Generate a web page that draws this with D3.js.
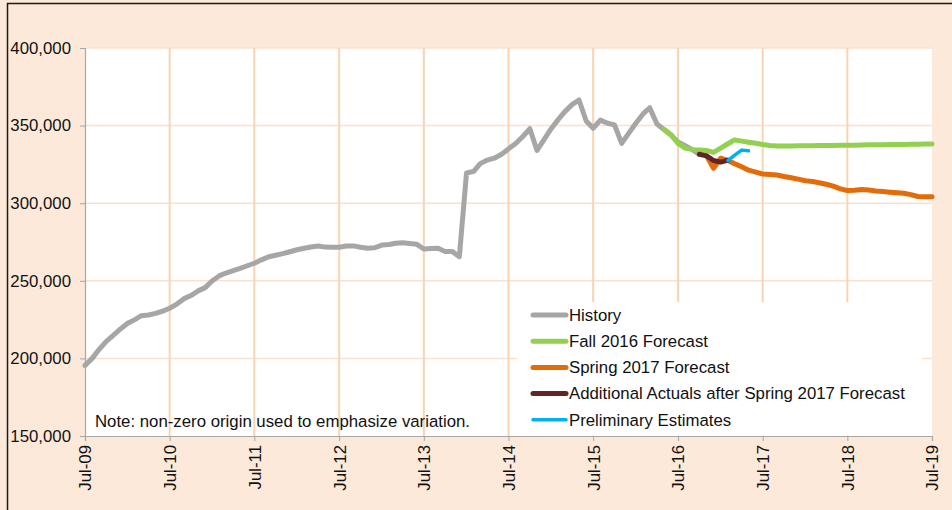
<!DOCTYPE html>
<html>
<head>
<meta charset="utf-8">
<script src="https://cdn.jsdelivr.net/npm/d3@7"></script>
<style>
  html, body { margin: 0; padding: 0; background: #fde9d9; }
  svg { display: block; }
  text { font-family: "Liberation Sans", Arial, sans-serif; }
</style>
</head>
<body>
<svg id="chart" width="952" height="510"></svg>
<script>
// ---- Data (values in persons, monthly) ----
const historyStart = "2009-07";
const historyValues = [
  195500, 200000, 206000, 211000, 215000, 219000, 222600, 225000, 227500, 228000, 229000, 230500,
  232300, 235000, 238500, 240500, 243500, 245600, 250000, 253300, 255000, 256500, 258000, 259700,
  261300, 263500, 265500, 266500, 267500, 268700, 270000, 271000, 271800, 272400, 271700, 271600,
  271600, 272400, 272500, 271600, 271000, 271300, 273000, 273400, 274200, 274500, 274000, 273500,
  270500, 270800, 271000, 268800, 268800, 265500, 319500, 320500, 325500, 327800, 329000, 331500,
  335000, 338500, 343000, 348000, 334000, 341000, 348000, 354000, 359000, 363500, 366500, 353000,
  348300, 353500, 351500, 350500, 338500, 345000, 351500, 357500, 361500, 351000, 347500, 344000,
  339500, 337000, 334500, 331500
];
const fallStart = "2016-05";
const fallValues = [
  347600, 344000, 338500, 335500, 334500, 334300, 334000, 332800, 335500, 338300, 340800, 340000,
  339300, 338600, 337800, 337200, 336900, 336900, 336900, 337000, 337000, 337000, 337100, 337200,
  337200, 337300, 337400, 337400, 337500, 337600, 337600, 337700, 337800, 337800, 337900, 338000,
  338000, 338100, 338100
];
const springStart = "2016-11";
const springValues = [
  330500, 322500, 329000, 327500, 325500, 323500, 321300, 320000, 318800, 318500, 318200, 317200,
  316400, 315500, 314500, 314000, 313200, 312200, 311000, 309200, 308200, 308300, 308800, 308500,
  307900, 307500, 307100, 306700, 306400, 305500, 304300, 304200, 304200
];
const actualsStart = "2016-10";
const actualsValues = [331500, 330500, 327500, 326500, 327800];
const prelimStart = "2017-02";
const prelimValues = [327500, 330800, 334200, 333800];

const seriesNames = ["History", "Fall 2016 Forecast", "Spring 2017 Forecast",
  "Additional Actuals after Spring 2017 Forecast", "Preliminary Estimates"];
const seriesColors = ["#a6a6a6", "#92d050", "#e36c09", "#632523", "#00b0f0"];
const yTicks = [150000, 200000, 250000, 300000, 350000, 400000];
const xTickYears = [2009, 2010, 2011, 2012, 2013, 2014, 2015, 2016, 2017, 2018, 2019];
const noteText = "Note: non-zero origin used to emphasize variation.";

// ---- Helpers ----
const parseMonth = d3.timeParse("%Y-%m");
function toPoints(start, values) {
  const s = parseMonth(start);
  return values.map((v, i) => ({ date: d3.timeMonth.offset(s, i), value: v }));
}
const seriesData = [
  toPoints(historyStart, historyValues),
  toPoints(fallStart, fallValues),
  toPoints(springStart, springValues),
  toPoints(actualsStart, actualsValues),
  toPoints(prelimStart, prelimValues)
];
const seriesWidths = [5, 5, 5, 5, 3.5];

// ---- Layout ----
const svg = d3.select("#chart");
const plot = { left: 85, right: 932, top: 48, bottom: 436 };

// outer frame
svg.append("rect").attr("x", 0).attr("y", 0).attr("width", 952).attr("height", 510).attr("fill", "#fde9d9");
svg.append("rect").attr("x", 7.5).attr("y", 3.5).attr("width", 1000).attr("height", 600)
  .attr("fill", "#fde9d9").attr("stroke", "#1a1a1a").attr("stroke-width", 1.5);

const x = d3.scaleTime()
  .domain([new Date(2009, 6, 1), new Date(2019, 6, 1)])
  .range([plot.left, plot.right]);
const y = d3.scaleLinear().domain([150000, 400000]).range([plot.bottom, plot.top]);

// plot background
svg.append("rect").attr("x", plot.left).attr("y", plot.top)
  .attr("width", plot.right - plot.left).attr("height", plot.bottom - plot.top).attr("fill", "#ffffff");

// gridlines
const grid = svg.append("g");
grid.selectAll("line.h").data(yTicks.filter(v => v > 150000)).join("line")
  .attr("x1", plot.left).attr("x2", plot.right)
  .attr("y1", d => y(d)).attr("y2", d => y(d))
  .attr("stroke", "#fbe0cb").attr("stroke-width", 1.5);
grid.selectAll("line.v").data(xTickYears.slice(1, -1)).join("line")
  .attr("x1", d => x(new Date(d, 6, 1))).attr("x2", d => x(new Date(d, 6, 1)))
  .attr("y1", plot.top).attr("y2", plot.bottom)
  .attr("stroke", "#f9d4b2").attr("stroke-width", 2);

// legend background (covers gridlines)
const legendBox = { x: 517, y: 302, w: 405, h: plot.bottom - 302 - 0.5 };
svg.append("rect").attr("x", legendBox.x).attr("y", legendBox.y)
  .attr("width", legendBox.w).attr("height", legendBox.h).attr("fill", "#ffffff");

// axes
const yAxis = d3.axisLeft(y).tickValues(yTicks).tickSize(5).tickPadding(9)
  .tickFormat(d3.format(","));
const gy = svg.append("g").attr("transform", `translate(${plot.left},0)`).call(yAxis);
gy.select(".domain").attr("stroke", "#a6a6a6").attr("stroke-width", 1.2);
gy.selectAll(".tick line").attr("stroke", "#a6a6a6");
gy.selectAll(".tick text").attr("font-size", "16.8px").attr("fill", "#111")
  .attr("font-family", "Liberation Sans, Arial, sans-serif");

const xAxis = d3.axisBottom(x)
  .tickValues(xTickYears.map(yr => new Date(yr, 6, 1)))
  .tickSize(5).tickFormat(d3.timeFormat("%b-%y"));
const gx = svg.append("g").attr("transform", `translate(0,${plot.bottom})`).call(xAxis);
gx.select(".domain").attr("stroke", "#a6a6a6").attr("stroke-width", 1.2);
gx.selectAll(".tick line").attr("stroke", "#a6a6a6");
gx.selectAll(".tick text")
  .attr("font-size", "16.8px").attr("fill", "#111")
  .attr("font-family", "Liberation Sans, Arial, sans-serif")
  .attr("text-anchor", "end")
  .attr("transform", "rotate(-90)")
  .attr("x", -9).attr("y", 0).attr("dy", "0.35em");

// lines
const line = d3.line().x(d => x(d.date)).y(d => y(d.value)).curve(d3.curveLinear);
svg.append("g").selectAll("path").data(seriesData).join("path")
  .attr("d", line)
  .attr("fill", "none")
  .attr("stroke", (d, i) => seriesColors[i])
  .attr("stroke-width", (d, i) => seriesWidths[i])
  .attr("stroke-linejoin", "round").attr("stroke-linecap", "round");

// note
svg.append("text").attr("x", 95).attr("y", 427).attr("font-size", "16.8px").attr("fill", "#111")
  .text(noteText);

// legend
const legend = svg.append("g");
const lg = legend.selectAll("g").data(seriesNames).join("g")
  .attr("transform", (d, i) => `translate(533,${315 + i * 26.2})`);
lg.append("line").attr("x1", 0).attr("x2", 33).attr("y1", 0).attr("y2", 0)
  .attr("stroke", (d, i) => seriesColors[i])
  .attr("stroke-width", (d, i) => i === 4 ? 3.5 : 5)
  .attr("stroke-linecap", "round");
lg.append("text").attr("x", 36).attr("y", 0).attr("dy", "0.35em")
  .attr("font-size", "16.8px").attr("fill", "#111").text(d => d);
</script>
</body>
</html>
